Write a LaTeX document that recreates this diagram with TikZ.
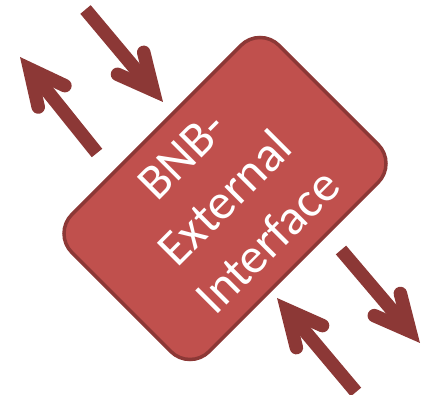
\documentclass[tikz,border=0pt]{standalone}
\usepackage{fontspec}
\setmainfont{Carlito}
\usetikzlibrary{calc}
\definecolor{boxfill}{HTML}{C0504D}
\definecolor{boxline}{HTML}{8C3836}
\definecolor{arrowred}{HTML}{8C3836}
\tikzset{
  box/.style={draw=boxline, fill=boxfill, line width=3.5pt, rounded corners=27pt,
    text=white, align=center, font=\fontsize{50}{61}\selectfont, inner sep=0pt},
  shaft/.style={draw=arrowred, line width=13.5pt, line cap=butt},
  barb/.style={draw=arrowred, line width=13.5pt, line cap=round, line join=miter}
}
\newcommand{\ExtArrow}[3]{%
  \coordinate (#1-tail) at #2;
  \coordinate (#1-tip) at #3;
  \coordinate (#1-v) at ($(#1-tip)!15.4pt!(#1-tail)$);
  \coordinate (#1-a) at ($(#1-v)!39pt!26:(#1-tail)$);
  \coordinate (#1-b) at ($(#1-v)!39pt!-26:(#1-tail)$);
  \draw[shaft] (#1-tail) -- (#1-v);
  \draw[barb] (#1-a) -- (#1-v) -- (#1-b);
}
\begin{document}
\begin{tikzpicture}[x=1pt, y=-1pt]
  \useasboundingbox (0,0) rectangle (429,395);
  \node[box, rotate=45, minimum width=293pt, minimum height=194pt] (ext) at (225,198.5)
    {BNB-\\External\\Interface};
  \ExtArrow{a1}{(97,153)}{(20,57)}
  \ExtArrow{a2}{(85.5,9.5)}{(163,102)}
  \ExtArrow{a3}{(341,250)}{(420,343)}
  \ExtArrow{a4}{(356,392)}{(277,298)}
\end{tikzpicture}
\end{document}
